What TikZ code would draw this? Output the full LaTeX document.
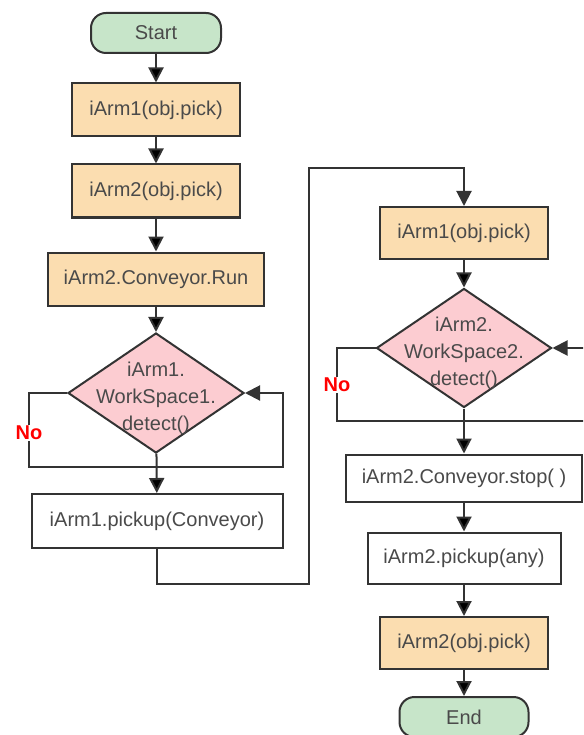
\documentclass[tikz,border=0pt]{standalone}
\usepackage{fontspec}
\setmainfont{Liberation Sans}
\usetikzlibrary{arrows.meta,shapes.geometric}
\definecolor{actorange}{HTML}{FBDDB0}
\definecolor{termgreen}{HTML}{C7E5C9}
\definecolor{decpink}{HTML}{FCCCD1}
\definecolor{linegray}{HTML}{333333}
\definecolor{textgray}{HTML}{4A4A4A}
\tikzset{
  base/.style={draw=linegray,line width=2pt,text=textgray,
    font=\fontsize{20}{27}\selectfont,inner sep=0pt},
  term/.style={base,rounded corners=15pt,fill=termgreen,
    minimum width=130pt,minimum height=40pt},
  act/.style={base,rectangle,fill=actorange,minimum height=53pt},
  plain/.style={base,rectangle,fill=white,minimum height=53pt},
  decision/.style={base,diamond,fill=decpink},
  dtext/.style={text=textgray,font=\fontsize{20}{27}\selectfont,align=center},
  nolabel/.style={fill=white,text=red,inner sep=1pt,
    font=\bfseries\fontsize{20}{20}\selectfont},
  flow/.style={draw=linegray,line width=2pt,
    -{Triangle[length=15pt,width=15pt]}}
}
\begin{document}
\begin{tikzpicture}[x=1pt,y=-1pt]
  \clip (0,0) rectangle (583,735);
  % left column
  \node[term] (start) at (156,33) {Start};
  \node[act,minimum width=168pt] (A1) at (156,110) {iArm1(obj.pick)};
  \node[act,minimum width=168pt] (A2) at (156,191) {iArm2(obj.pick)};
  \node[act,minimum width=216pt] (run) at (156,279) {iArm2.Conveyor.Run};
  \node[decision,minimum width=176pt,minimum height=120pt] (D1) at (156,393) {};
  \node[dtext,yshift=-5pt] at (D1) {iArm1.\\WorkSpace1.\\detect()};
  \node[plain,minimum width=251pt,minimum height=54pt] (P1) at (157,521) {iArm1.pickup(Conveyor)};
  % right column
  \node[act,minimum width=168pt,minimum height=52pt] (B1) at (464,233) {iArm1(obj.pick)};
  \node[decision,minimum width=175pt,minimum height=119pt] (D2) at (464,348) {};
  \node[dtext,yshift=-5pt] at (D2) {iArm2.\\WorkSpace2.\\detect()};
  \node[plain,minimum width=236pt,minimum height=47pt] (stop) at (464,478) {iArm2.Conveyor.stop( )};
  \node[plain,minimum width=193pt,minimum height=51pt] (P2) at (464,558) {iArm2.pickup(any)};
  \node[act,minimum width=168pt,minimum height=52pt] (B2) at (464,643) {iArm2(obj.pick)};
  \node[term,minimum width=129pt] (end) at (464,717) {End};
  % bends
  \coordinate (L1) at (29,467);
  \coordinate (R1) at (283,467);
  \coordinate (L2) at (337,421);
  \coordinate (R2) at (600,421);
  \coordinate (M1) at (309,584);
  \coordinate (M2) at (309,168);

  \path[flow] (start) edge (A1);
  \path[flow] (A1) edge (A2);
  \path[flow] (A2) edge (run);
  \path[flow] (run) edge (D1);
  \path[flow] (D1) edge (P1);
  \draw[flow] (D1.west) -| (L1) -- (R1) |- (D1.east);
  \node[nolabel] at (29,433) {No};
  \draw[flow] (P1.south) |- (M1) -- (M2) -| (B1.north);
  \path[flow] (B1) edge (D2);
  \path[flow] (D2) edge (stop);
  \draw[flow] (D2.west) -| (L2) -- (R2) |- (D2.east);
  \node[nolabel] at (337,385) {No};
  \path[flow] (stop) edge (P2);
  \path[flow] (P2) edge (B2);
  \path[flow] (B2) edge (end);
\end{tikzpicture}
\end{document}
